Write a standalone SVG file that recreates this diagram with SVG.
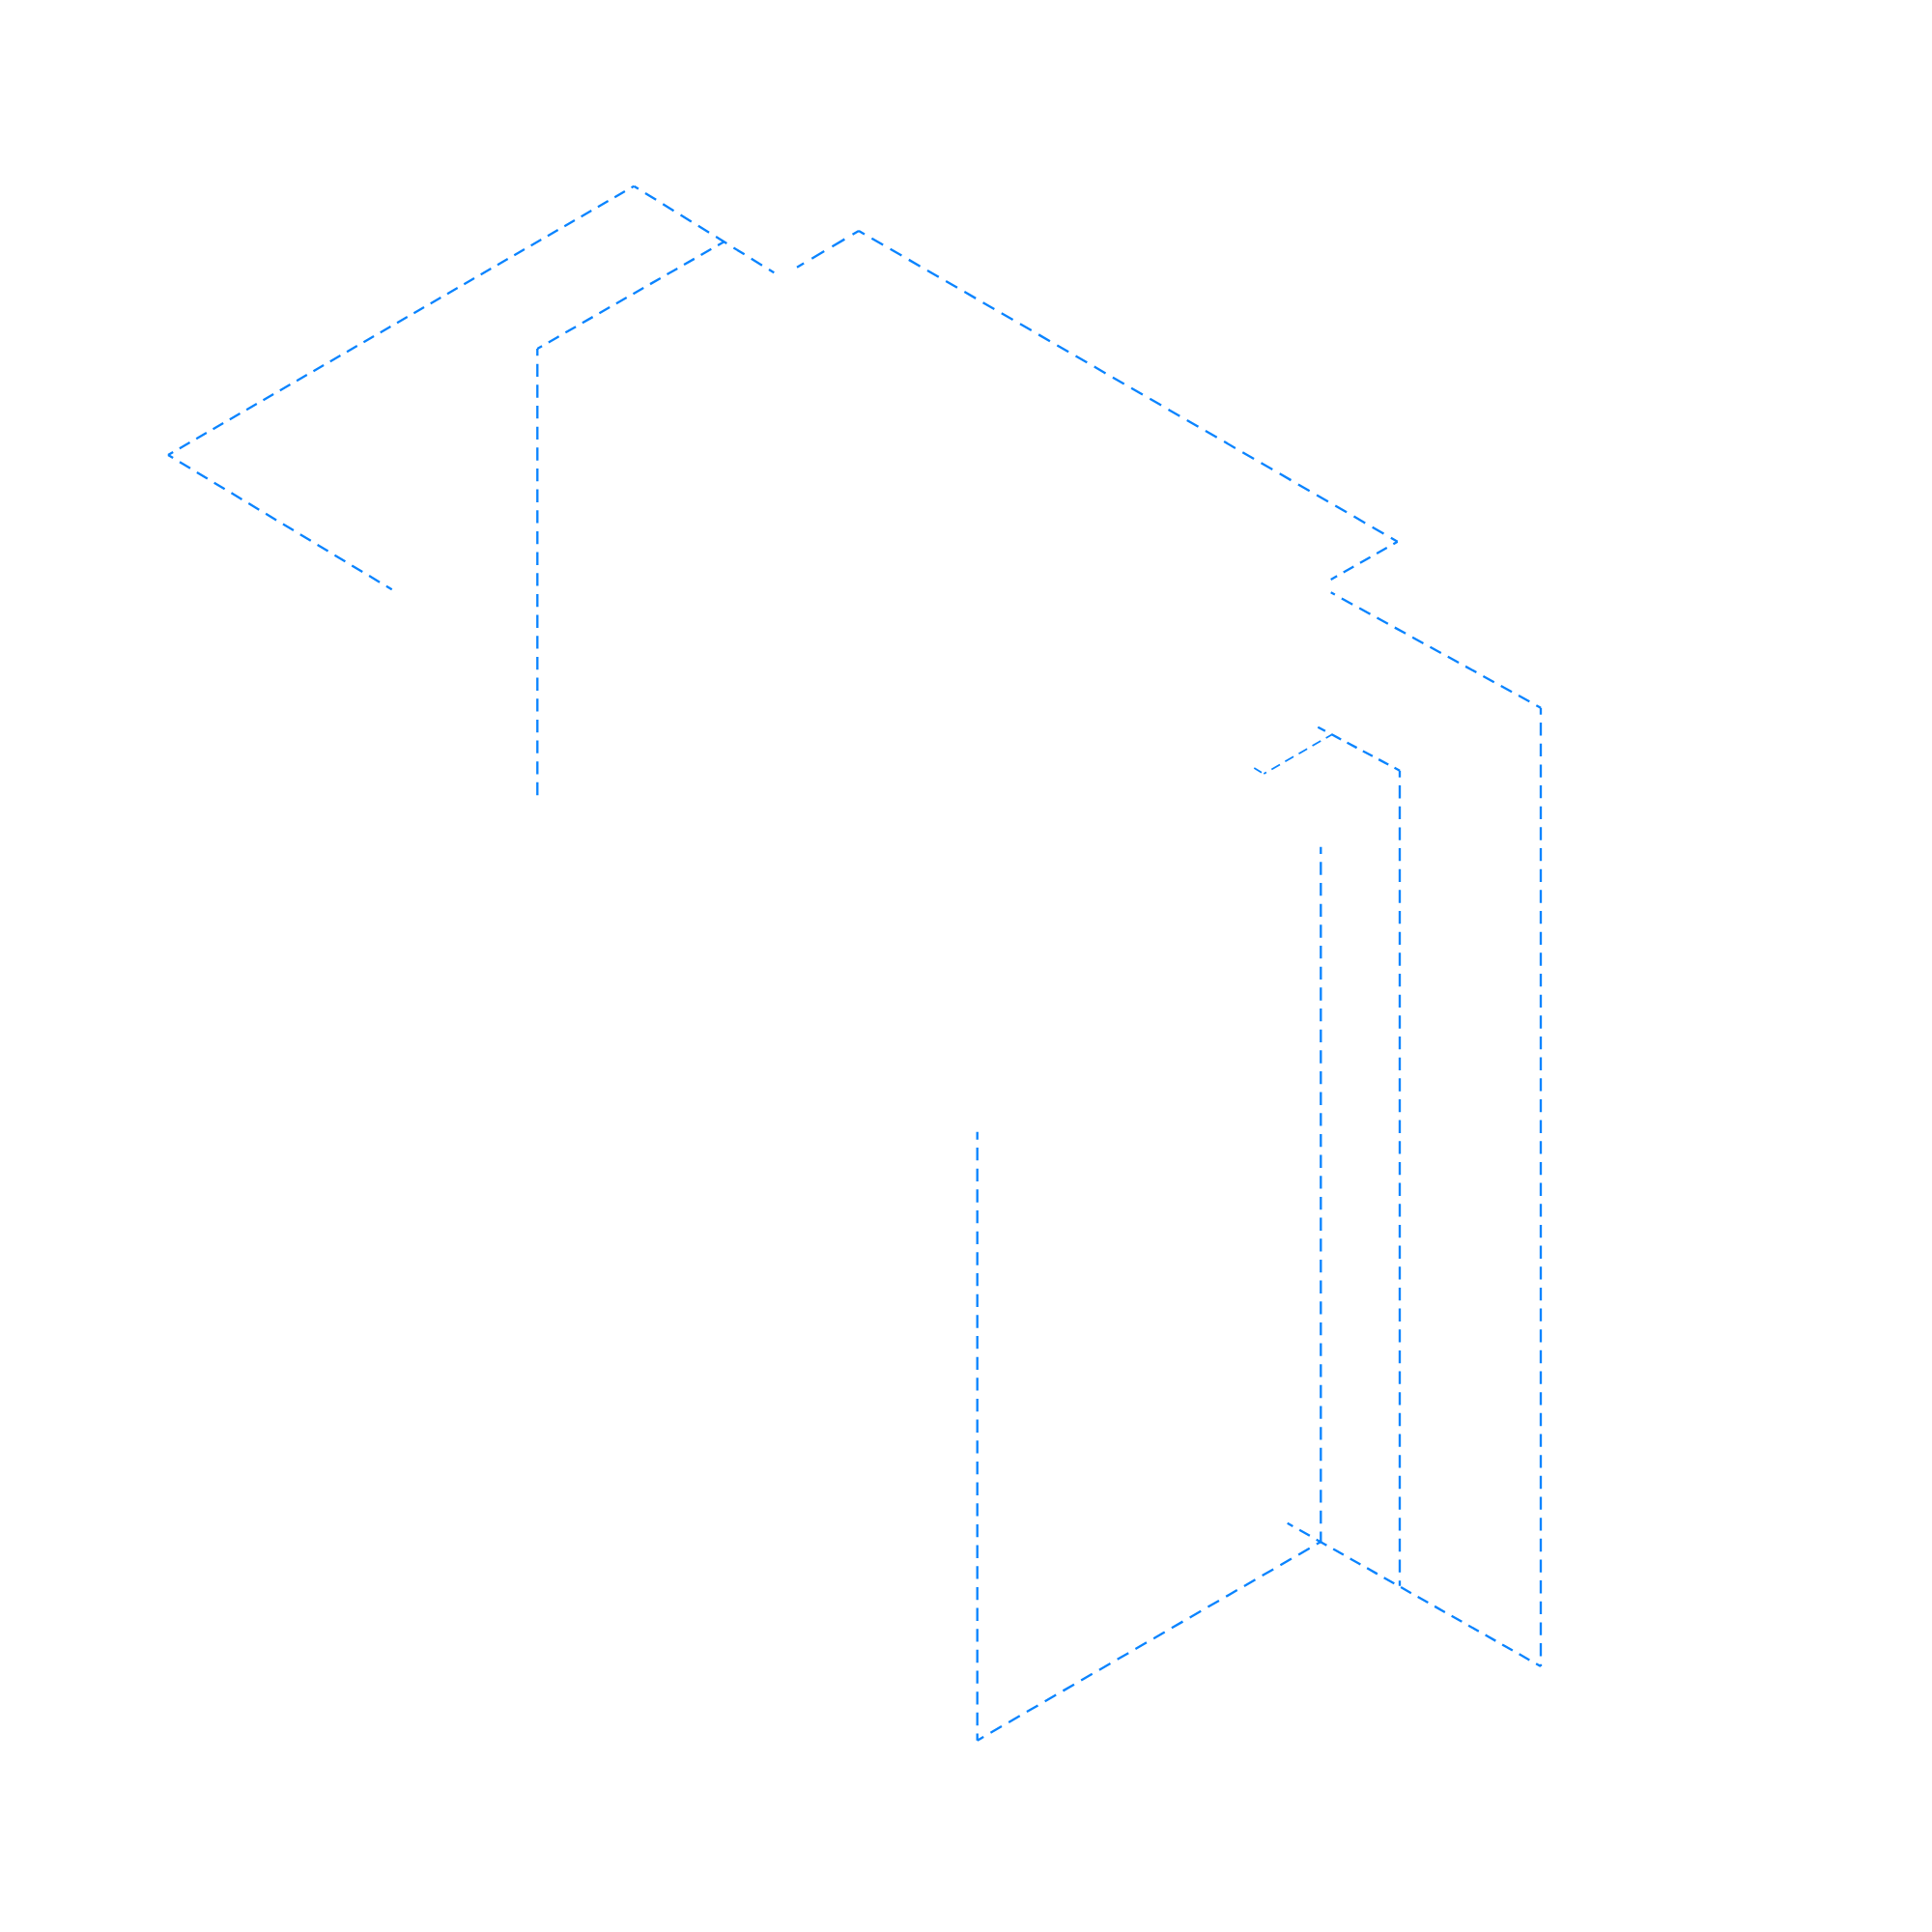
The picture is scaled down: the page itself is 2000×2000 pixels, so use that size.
<svg xmlns="http://www.w3.org/2000/svg" width="2000" height="2000" viewBox="0 0 2000 2000">
<style>
.d{fill:none;stroke:#0a84ff;stroke-width:2.33}
.t{stroke-width:1.75}
</style>
<rect width="2000" height="2000" fill="#fff"/>
<g id="connectors">
<path class="d" stroke-dasharray="12.8 8" stroke-dashoffset="6.8" d="M174 471L405.7 610.3"/>
<path class="d" stroke-dasharray="12.3 7.7" stroke-dashoffset="6.3" d="M174 471L656.3 192.7"/>
<path class="d" stroke-dasharray="13.2 8.3" stroke-dashoffset="7.8" d="M656.3 192.7L801.3 282.3"/>
<path class="d" stroke-dasharray="15 9.5" stroke-dashoffset="7.5" d="M889 239L825 276.7"/>
<path class="d" stroke-dasharray="13.6 8.56" stroke-dashoffset="6.7" d="M889 239L1446.7 560.7"/>
<path class="d" stroke-dasharray="12.2 7.6" stroke-dashoffset="7.2" d="M1446.7 560.7L1377.7 600"/>
<path class="d" stroke-dasharray="12.9 8" stroke-dashoffset="7.6" d="M1595 732.7L1377.7 613.3"/>
<path class="d" stroke-dasharray="13.33 8.33" stroke-dashoffset="6.3" d="M1595 732.7V1725"/>
<path class="d" stroke-dasharray="12.3 7.8" stroke-dashoffset="6.7" d="M1595 1725L1332.7 1576.7"/>
<path class="d" stroke-dasharray="12.4 7.8" stroke-dashoffset="6.9" d="M556.3 361L750 250"/>
<path class="d" stroke-dasharray="13.33 8.33" stroke-dashoffset="6" d="M556.3 361V826"/>
<path class="d" stroke-dasharray="11.4 7.1" stroke-dashoffset="5.2" d="M1449 797.7L1364.3 752.7"/>
<path class="d" stroke-dasharray="13.33 8.33" stroke-dashoffset="6.3" d="M1449 797.7V1641.7"/>
<path class="d t" stroke-dasharray="10 6.25" stroke-dashoffset="1" d="M1298.3 795L1308.3 801"/>
<path class="d t" stroke-dasharray="10 6.25" stroke-dashoffset="7" d="M1308.3 801L1378.3 760.7"/>
<path class="d" stroke-dasharray="13.33 8.33" stroke-dashoffset="6" d="M1367.3 876.7V1596"/>
<path class="d" stroke-dasharray="13.33 8.33" stroke-dashoffset="5.33" d="M1011.7 1171.7V1801.7"/>
<path class="d" stroke-dasharray="13.33 8.33" stroke-dashoffset="5.8" d="M1011.7 1801.7L1367.3 1596"/>
</g>
</svg>
